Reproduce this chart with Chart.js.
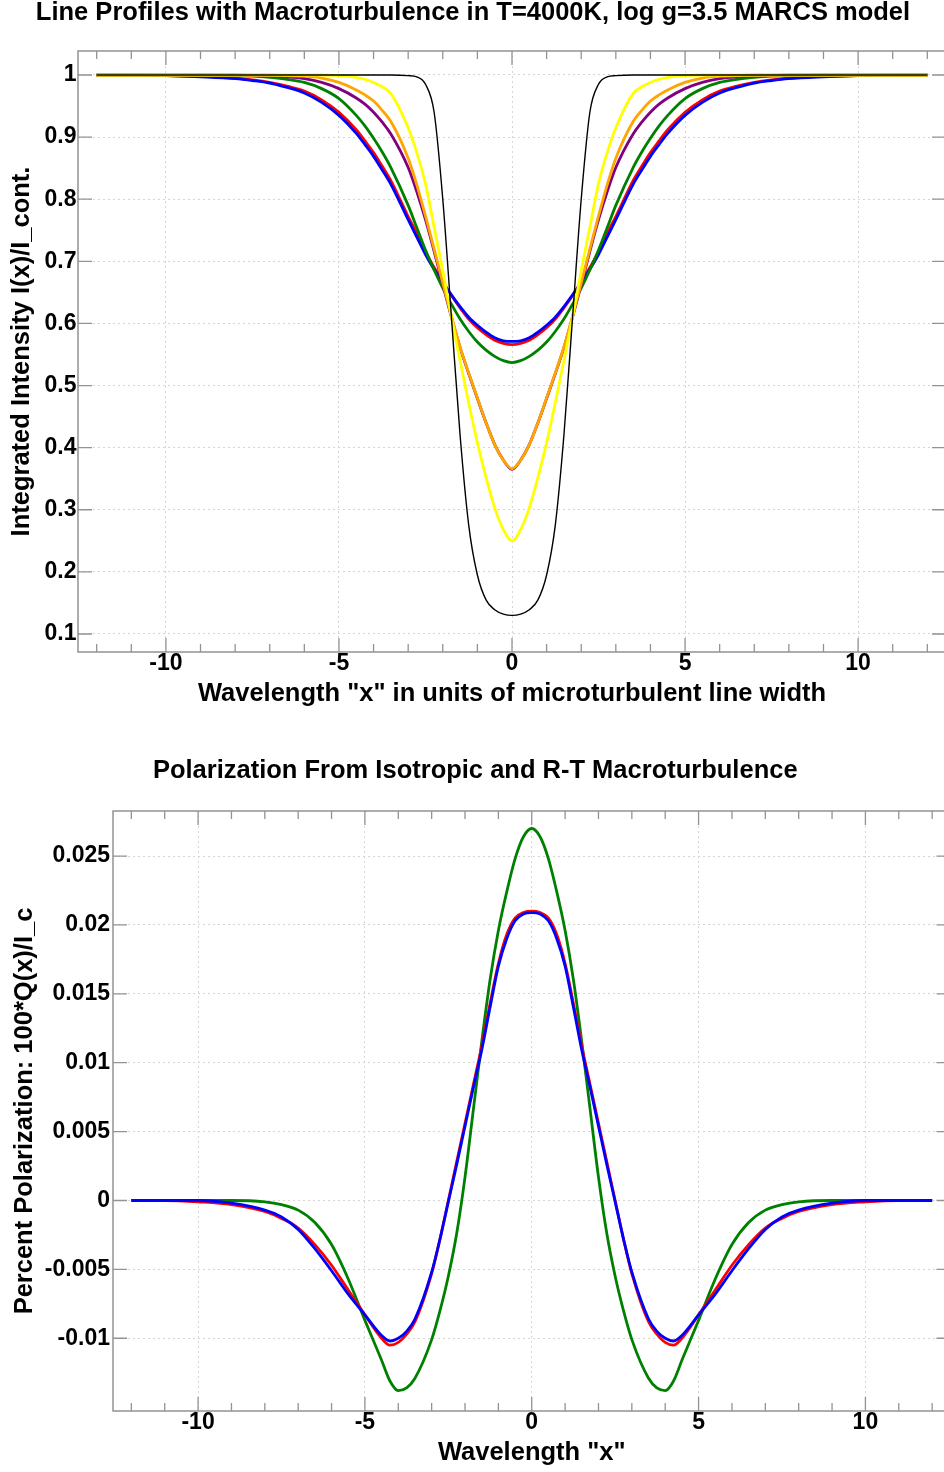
<!DOCTYPE html>
<html><head><meta charset="utf-8">
<script src="https://cdn.jsdelivr.net/npm/chart.js@4.4.0/dist/chart.umd.min.js"></script>
<style>
html,body{margin:0;padding:0;background:#fff;overflow:hidden;width:944px;height:1472px;}
#wrap{position:relative;width:954px;height:1472px;}
canvas{display:block;}
</style></head><body>
<div id="wrap">
<canvas id="top" width="954" height="720"></canvas>
<canvas id="bot" width="954" height="752"></canvas>
</div>
<script>
// ---------- data ----------
const wavelengths = [-12,-11,-10,-9,-8,-7.5,-7,-6.5,-6,-5.5,-5,-4.5,-4.25,-4,-3.75,-3.5,-3,-2.75,-2.5,-2.25,-2,-1.75,-1.5,-1.25,-1,-0.75,-0.5,-0.25,0,
  0.25,0.5,0.75,1,1.25,1.5,1.75,2,2.25,2.5,2.75,3,3.5,3.75,4,4.25,4.5,5,5.5,6,6.5,7,7.5,8,9,10,11,12];

const xTickValues = [-10,-5,0,5,10];
const xTickLabels = ['-10','-5','0','5','10'];
const xMinorTickValues = [-12,-11,-10,-9,-8,-7,-6,-5,-4,-3,-2,-1,0,1,2,3,4,5,6,7,8,9,10,11,12];

const yTickValuesTop = [0.1,0.2,0.3,0.4,0.5,0.6,0.7,0.8,0.9,1];
const yTickLabelsTop = ['0.1','0.2','0.3','0.4','0.5','0.6','0.7','0.8','0.9','1'];
const yTickValuesBot = [-0.01,-0.005,0,0.005,0.01,0.015,0.02,0.025];
const yTickLabelsBot = ['-0.01','-0.005','0','0.005','0.01','0.015','0.02','0.025'];

const intensityBlack = [1,1,1,1,1,1,1,1,1,1,1,1,1,1,1,1,0.999,0.997,0.985,0.94,0.80,0.61,0.42,0.275,0.195,0.155,0.139,0.132,0.130,
  0.132,0.139,0.155,0.195,0.275,0.42,0.61,0.80,0.94,0.985,0.997,0.999,1,1,1,1,1,1,1,1,1,1,1,1,1,1,1,1];
const intensityYellow = [1,1,1,1,1,1,1,1,1,1,0.999,0.996,0.993,0.988,0.981,0.97,0.915,0.875,0.825,0.755,0.685,0.61,0.54,0.472,0.408,0.352,0.303,0.268,0.25,
  0.268,0.303,0.352,0.408,0.472,0.54,0.61,0.685,0.755,0.825,0.875,0.915,0.97,0.981,0.988,0.993,0.996,0.999,1,1,1,1,1,1,1,1,1,1];
const intensityOrange = [1,1,1,1,1,1,1,0.999,0.998,0.995,0.988,0.976,0.968,0.958,0.943,0.925,0.866,0.823,0.773,0.72,0.665,0.612,0.562,0.52,0.48,0.44,0.405,0.38,0.366,
  0.38,0.405,0.44,0.48,0.52,0.562,0.612,0.665,0.72,0.773,0.823,0.866,0.925,0.943,0.958,0.968,0.976,0.988,0.995,0.998,0.999,1,1,1,1,1,1,1];
const intensityPurple = [1,1,1,1,1,0.999,0.998,0.997,0.994,0.988,0.978,0.963,0.953,0.94,0.924,0.905,0.851,0.812,0.767,0.716,0.662,0.61,0.561,0.519,0.479,0.44,0.405,0.38,0.365,
  0.38,0.405,0.44,0.479,0.519,0.561,0.61,0.662,0.716,0.767,0.812,0.851,0.905,0.924,0.94,0.953,0.963,0.978,0.988,0.994,0.997,0.998,0.999,1,1,1,1,1];
const intensityGreen = [1,1,1,1,0.999,0.998,0.996,0.993,0.988,0.978,0.962,0.935,0.918,0.898,0.876,0.851,0.79,0.754,0.718,0.686,0.657,0.631,0.607,0.587,0.57,0.557,0.547,0.54,0.537,
  0.54,0.547,0.557,0.57,0.587,0.607,0.631,0.657,0.686,0.718,0.754,0.79,0.851,0.876,0.898,0.918,0.935,0.962,0.978,0.988,0.993,0.996,0.998,0.999,1,1,1,1];
const intensityBlue = [1,1,0.999,0.997,0.994,0.991,0.987,0.98,0.971,0.956,0.935,0.906,0.888,0.869,0.847,0.824,0.767,0.739,0.711,0.687,0.666,0.646,0.627,0.61,0.597,0.586,0.577,0.572,0.571,
  0.572,0.577,0.586,0.597,0.61,0.627,0.646,0.666,0.687,0.711,0.739,0.767,0.824,0.847,0.869,0.888,0.906,0.935,0.956,0.971,0.98,0.987,0.991,0.994,0.997,0.999,1,1];
const intensityRed = [1,1,0.999,0.998,0.995,0.992,0.988,0.982,0.974,0.96,0.94,0.912,0.894,0.875,0.853,0.83,0.772,0.745,0.715,0.69,0.667,0.645,0.625,0.607,0.593,0.582,0.573,0.568,0.566,
  0.568,0.573,0.582,0.593,0.607,0.625,0.645,0.667,0.69,0.715,0.745,0.772,0.83,0.853,0.875,0.894,0.912,0.94,0.96,0.974,0.982,0.988,0.992,0.995,0.998,0.999,1,1];

const polBlue = [0,0,0,-0.0002,-0.0007,-0.0012,-0.0021,-0.0035,-0.0051,-0.0068,-0.0083,-0.0098,-0.0102,-0.0100,-0.0095,-0.0086,-0.0052,-0.0028,-0.0001,0.0026,0.0054,0.0082,0.0109,0.0140,0.0170,0.0190,0.0203,0.0208,0.0209,
  0.0208,0.0203,0.0190,0.0170,0.0140,0.0109,0.0082,0.0054,0.0026,-0.0001,-0.0028,-0.0052,-0.0086,-0.0095,-0.0100,-0.0102,-0.0098,-0.0083,-0.0068,-0.0051,-0.0035,-0.0021,-0.0012,-0.0007,-0.0002,0,0,0];
const polRed = [0,0,-0.0001,-0.0003,-0.0008,-0.0013,-0.0020,-0.0032,-0.0047,-0.0065,-0.0083,-0.0100,-0.0105,-0.0103,-0.0097,-0.0088,-0.0053,-0.0028,0.0000,0.0028,0.0056,0.0084,0.0112,0.0143,0.0172,0.0193,0.0205,0.0209,0.0210,
  0.0209,0.0205,0.0193,0.0172,0.0143,0.0112,0.0084,0.0056,0.0028,0.0000,-0.0028,-0.0053,-0.0088,-0.0097,-0.0103,-0.0105,-0.0100,-0.0083,-0.0065,-0.0047,-0.0032,-0.0020,-0.0013,-0.0008,-0.0003,-0.0001,0,0];
const polGreen = [0,0,0,0,-0.0001,-0.0003,-0.0007,-0.0016,-0.0032,-0.0057,-0.0087,-0.0116,-0.0131,-0.0138,-0.0136,-0.0129,-0.0101,-0.0080,-0.0055,-0.0024,0.0017,0.0066,0.0115,0.0160,0.0196,0.0224,0.0248,0.0264,0.0270,
  0.0264,0.0248,0.0224,0.0196,0.0160,0.0115,0.0066,0.0017,-0.0024,-0.0055,-0.0080,-0.0101,-0.0129,-0.0136,-0.0138,-0.0131,-0.0116,-0.0087,-0.0057,-0.0032,-0.0016,-0.0007,-0.0003,-0.0001,0,0,0,0];

// ---------- helpers ----------
const FONT = '"Liberation Sans", Arial, Helvetica, sans-serif';
const pts = arr => wavelengths.map((x, i) => ({x, y: arr[i]}));

const framePlugin = {
  id: 'frame',
  afterDatasetsDraw(chart, args, o) {
    const {ctx, chartArea: a} = chart;
    const xs = chart.scales.x, ys = chart.scales.y;
    ctx.save();
    ctx.strokeStyle = '#939393';
    ctx.lineWidth = 1.5;
    ctx.beginPath();
    ctx.moveTo(a.right, a.top); ctx.lineTo(a.left, a.top); ctx.lineTo(a.left, a.bottom); ctx.lineTo(a.right, a.bottom);
    ctx.stroke();
    ctx.lineWidth = 1.3;
    ctx.beginPath();
    o.xMinor.forEach(v => {
      const p = xs.getPixelForValue(v);
      const len = o.xMajor.includes(v) ? 14 : 8;
      ctx.moveTo(p, a.bottom); ctx.lineTo(p, a.bottom - len);
      ctx.moveTo(p, a.top); ctx.lineTo(p, a.top + len);
    });
    o.yMajor.forEach(v => {
      const p = ys.getPixelForValue(v);
      ctx.moveTo(a.left, p); ctx.lineTo(a.left + 14, p);
      ctx.moveTo(a.right, p); ctx.lineTo(a.right - 14, p);
    });
    ctx.stroke();
    ctx.restore();
  }
};

function makeScales(cfg) {
  const tickFont = {family: FONT, size: 23, weight: 'bold', lineHeight: 1};
  const titleFont = {family: FONT, size: 25.5, weight: 'bold', lineHeight: 1};
  return {
    x: {
      type: 'linear', min: cfg.xmin, max: cfg.xmax,
      afterBuildTicks: s => { s.ticks = xTickValues.map(v => ({value: v})); },
      afterFit: s => { s.height = cfg.xHeight; },
      ticks: {font: tickFont, color: '#000', padding: cfg.xTickPad, maxRotation: 0, autoSkip: false,
        callback: v => xTickLabels[xTickValues.indexOf(v)] ?? ''},
      grid: {color: '#d6d6d6', lineWidth: 1, drawTicks: false},
      border: {display: false, dash: [2, 3]},
      title: {display: true, text: cfg.xTitle, font: titleFont, color: '#000', padding: {top: 0, bottom: cfg.xTitlePad}}
    },
    y: {
      type: 'linear', min: cfg.ymin, max: cfg.ymax,
      afterBuildTicks: s => { s.ticks = cfg.yTicks.map(v => ({value: v})); },
      afterFit: s => { s.width = cfg.yWidth; },
      ticks: {font: tickFont, color: '#000', padding: cfg.yTickPad, autoSkip: false,
        callback: v => { const i = cfg.yTicks.findIndex(t => Math.abs(t - v) < 1e-9); return i >= 0 ? cfg.yLabels[i] : ''; }},
      grid: {color: '#d6d6d6', lineWidth: 1, drawTicks: false},
      border: {display: false, dash: [2, 3]},
      title: {display: true, text: cfg.yTitle, font: titleFont, color: '#000', padding: {top: cfg.yTitlePad, bottom: 0}}
    }
  };
}

function ds(label, arr, color, width) {
  return {label, data: pts(arr), borderColor: color, backgroundColor: color,
    borderWidth: width, pointRadius: 0, fill: false, cubicInterpolationMode: 'monotone'};
}

// ---------- top chart ----------
new Chart(document.getElementById('top'), {
  type: 'line',
  data: {datasets: [
    ds('black', intensityBlack, '#000000', 1.4),
    ds('yellow', intensityYellow, '#ffff00', 2.8),
    ds('orange', intensityOrange, '#ffa500', 2.8),
    ds('purple', intensityPurple, '#800080', 2.8),
    ds('green', intensityGreen, '#008000', 2.8),
    ds('blue', intensityBlue, '#0000ff', 2.8),
    ds('red', intensityRed, '#ff0000', 2.8)
  ]},
  options: {
    responsive: false, animation: false, devicePixelRatio: 1,
    layout: {padding: {left: 0, right: 8, top: 0, bottom: 0}},
    plugins: {
      legend: {display: false}, tooltip: {enabled: false},
      title: {display: true, text: 'Line Profiles with Macroturbulence in T=4000K, log g=3.5 MARCS model',
        font: {family: FONT, size: 25.5, weight: 'bold', lineHeight: 1}, color: '#000', padding: {top: 0, bottom: 25.5}},
      frame: {xMinor: xMinorTickValues, xMajor: xTickValues, yMajor: yTickValuesTop}
    },
    scales: makeScales({xmin: -12.54, xmax: 12.54, ymin: 0.071, ymax: 1.0386, yTicks: yTickValuesTop, yLabels: yTickLabelsTop,
      xHeight: 68, yWidth: 78, xTickPad: 0, xTitlePad: 13.25, yTitlePad: 9, yTickPad: 1.5,
      xTitle: 'Wavelength "x" in units of microturbulent line width', yTitle: 'Integrated Intensity I(x)/I_cont.'})
  },
  plugins: [framePlugin]
});

// ---------- bottom chart ----------
new Chart(document.getElementById('bot'), {
  type: 'line',
  data: {datasets: [
    ds('blue', polBlue, '#0000ff', 2.8),
    ds('red', polRed, '#ff0000', 2.8),
    ds('green', polGreen, '#008000', 2.8)
  ]},
  options: {
    responsive: false, animation: false, devicePixelRatio: 1,
    layout: {padding: {left: 0, right: 3.5, top: 0, bottom: 0}},
    plugins: {
      legend: {display: false}, tooltip: {enabled: false},
      title: {display: true, text: 'Polarization From Isotropic and R-T Macroturbulence',
        font: {family: FONT, size: 25.5, weight: 'bold', lineHeight: 1}, color: '#000', padding: {top: 38.25, bottom: 27.25}},
      frame: {xMinor: xMinorTickValues, xMajor: xTickValues, yMajor: yTickValuesBot}
    },
    scales: makeScales({xmin: -12.55, xmax: 12.55, ymin: -0.01528, ymax: 0.02827, yTicks: yTickValuesBot, yLabels: yTickLabelsBot,
      xHeight: 61, yWidth: 113, xTickPad: 0, xTitlePad: 6.25, yTitlePad: 12.5, yTickPad: 3,
      xTitle: 'Wavelength "x"', yTitle: 'Percent Polarization: 100*Q(x)/I_c'})
  },
  plugins: [framePlugin]
});
</script>
</body></html>
